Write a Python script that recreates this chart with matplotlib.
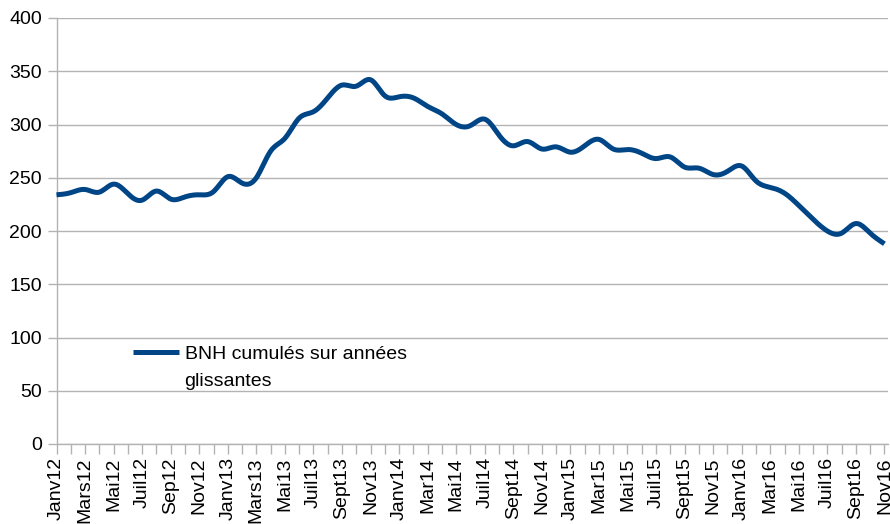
import numpy as np
import matplotlib
matplotlib.use("Agg")
import matplotlib.pyplot as plt

plt.rcParams['font.family'] = ['Liberation Sans', 'DejaVu Sans']

# Labels shown every other month (Jan 2012 .. Nov 2016)
tick_labels = ["Janv12", "Mars12", "Mai12", "Juil12", "Sep12", "Nov12",
               "Janv13", "Mars13", "Mai13", "Juil13", "Sept13", "Nov13",
               "Janv14", "Mar14", "Mai14", "Juil14", "Sept14", "Nov14",
               "Janv15", "Mar15", "Mai15", "Juil15", "Sept15", "Nov15",
               "Janv16", "Mar16", "Mai16", "Juil16", "Sept16", "Nov16"]

# Monthly values, Jan 2012 .. Nov 2016
values = [234, 236, 239, 236.5, 244, 235, 229, 237.5, 230, 232, 234, 237,
          251, 245, 250, 275, 287, 306, 312, 325, 337, 336, 342, 327,
          326, 325, 317, 310, 300, 299, 305, 290, 280, 284, 277, 279,
          274, 280, 286, 277, 276.5, 273, 268, 269.5, 260, 259, 253, 256,
          261, 247, 241, 235.5, 224, 211, 200, 198, 207, 198, 188]

series_label = "BNH cumulés sur années\nglissantes"
y_ticks = [0, 50, 100, 150, 200, 250, 300, 350, 400]


def natural_spline(x, y, per=12):
    x = np.asarray(x, float)
    y = np.asarray(y, float)
    n = len(x)
    h = np.diff(x)
    A = np.zeros((n, n))
    b = np.zeros(n)
    A[0, 0] = 1
    A[-1, -1] = 1
    for i in range(1, n - 1):
        A[i, i - 1] = h[i - 1]
        A[i, i] = 2 * (h[i - 1] + h[i])
        A[i, i + 1] = h[i]
        b[i] = 6 * ((y[i + 1] - y[i]) / h[i] - (y[i] - y[i - 1]) / h[i - 1])
    M = np.linalg.solve(A, b)
    xs, ys = [], []
    for i in range(n - 1):
        t = np.linspace(x[i], x[i + 1], per, endpoint=(i == n - 2))
        hi = h[i]
        s = (M[i] * (x[i + 1] - t) ** 3 / (6 * hi) + M[i + 1] * (t - x[i]) ** 3 / (6 * hi)
             + (y[i] / hi - M[i] * hi / 6) * (x[i + 1] - t)
             + (y[i + 1] / hi - M[i + 1] * hi / 6) * (t - x[i]))
        xs.append(t)
        ys.append(s)
    return np.concatenate(xs), np.concatenate(ys)


W, H = 890, 524
fig = plt.figure(figsize=(W / 100, H / 100), dpi=100)
left, right, top, bottom = 56.5, 888, 18, 444
ax = fig.add_axes([left / W, 1 - bottom / H, (right - left) / W, (bottom - top) / H])

months = np.arange(len(values))
sx, sy = natural_spline(months, values)
ax.plot(sx, sy, color="#004586", lw=3.6, solid_capstyle="butt", label=series_label,
        clip_on=False, zorder=3)

grid_c = "#b3b3b3"
ax.set_ylim(0, 400)
ax.set_xlim(0, 58.25)
ax.set_yticks(y_ticks)
ax.set_yticklabels([str(v) for v in y_ticks])
ax.yaxis.grid(True, color=grid_c, lw=1.0)
ax.set_axisbelow(True)

ax.set_xticks(months[::2])
ax.set_xticklabels(tick_labels, rotation=90)
ax.set_xticks(months[1::2], minor=True)

for s in ["top", "right"]:
    ax.spines[s].set_visible(False)
for s in ["left", "bottom"]:
    ax.spines[s].set_color(grid_c)
    ax.spines[s].set_linewidth(1.0)

ax.tick_params(axis="x", which="both", direction="out", length=7.5, width=1.0,
               color=grid_c, pad=2, labelsize=14, labelcolor="black")
ax.tick_params(axis="y", direction="out", length=6.5, width=1.0, color=grid_c,
               pad=4, labelsize=14, labelcolor="black")

leg = ax.legend(loc="upper left", bbox_to_anchor=(133 / W, 1 - 346 / H),
                bbox_transform=fig.transFigure, frameon=False, fontsize=14,
                handlelength=2.35, handletextpad=0.3, borderpad=0, borderaxespad=0,
                labelspacing=0)
for t in leg.get_texts():
    t.set_linespacing(1.8)
for ln in leg.get_lines():
    ln.set_linewidth(3.6)
    ln.set_ydata(np.asarray(ln.get_ydata()) + 11.3)

fig.savefig("out.png", dpi=100)
